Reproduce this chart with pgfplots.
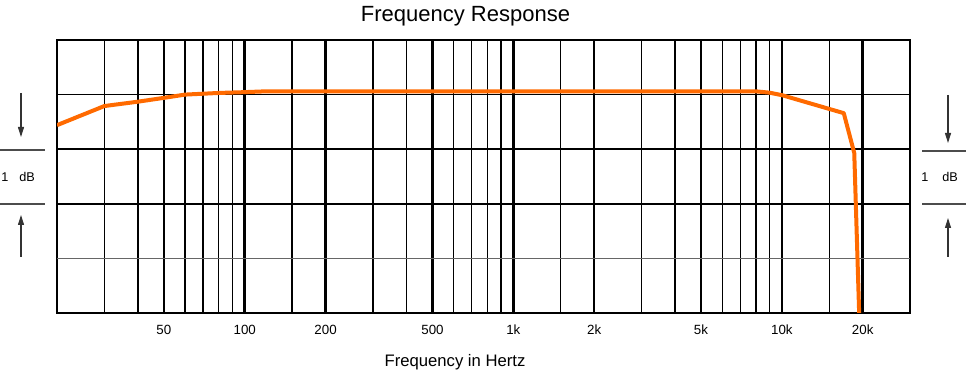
\documentclass[border=0pt]{standalone}
\usepackage{pgfplots}
\pgfplotsset{compat=1.18}
\usepackage{fontspec}
\setmainfont{Liberation Sans}
\usetikzlibrary{arrows.meta}
\definecolor{curve}{RGB}{255,106,0}
\begin{document}
\begin{tikzpicture}
\useasboundingbox (-42.75pt,-42.75pt) rectangle (681.75pt,234.75pt);
\begin{axis}[
  at={(0,0)}, anchor=south west, scale only axis,
  width=639.75pt, height=204.75pt,
  xmode=log, xmin=20, xmax=30000, ymin=-4, ymax=1,
  xtick={50,100,200,500,1000,2000,5000,10000,20000},
  xticklabels={50,100,200,500,1k,2k,5k,10k,20k},
  minor xtick={30,40,60,70,80,90,150,300,400,600,700,800,900,1500,3000,4000,6000,7000,8000,9000,15000},
  ytick=\empty,
  xmajorgrids, xminorgrids,
  major grid style={black, line width=2pt},
  minor grid style={black, line width=1pt},
  major tick length=0pt, minor tick length=0pt,
  axis line style={black, line width=1.1pt},
  xticklabel style={font=\fontsize{10}{12}\selectfont, anchor=base, yshift=-16pt},
  clip=true,
]
\addplot[black, line width=1.1pt] coordinates {(20,0) (30000,0)};
\addplot[black, line width=1.1pt] coordinates {(20,-1) (30000,-1)};
\addplot[black, line width=1.1pt] coordinates {(20,-2) (30000,-2)};
\addplot[black!60, line width=1.1pt] coordinates {(20,-3) (30000,-3)};
\addplot[curve, line width=3pt, line join=round] coordinates {
(20,-0.56) (30,-0.21) (40,-0.13) (50,-0.06) (60,0.0) (80,0.03) (100,0.045) (120,0.06)
(8000,0.06) (9000,0.035) (10000,-0.01) (17000,-0.34) (18600,-1.07) (19400,-4.0)
};
\end{axis}
\begin{scope}[x=0.75pt,y=0.75pt]
\node[font=\fontsize{16.5}{19}\selectfont, anchor=base] at (408.5,291.3) {Frequency Response};
\node[font=\fontsize{12.5}{15}\selectfont, anchor=base] at (398,-53.7) {Frequency in Hertz};
% left annotation
\draw[black!80, line width=0.8pt, -{Triangle[length=7.5pt,width=4.5pt]}] (-36,220) -- (-36,176);
\draw[black!70, line width=0.8pt] (-57,163) -- (-12,163);
\node[font=\fontsize{9.5}{11}\selectfont] at (-52,136) {1};
\node[font=\fontsize{9.5}{11}\selectfont] at (-30,136) {dB};
\draw[black!70, line width=0.8pt] (-57,109) -- (-12,109);
\draw[black!80, line width=0.8pt, -{Triangle[length=7.5pt,width=4.5pt]}] (-36,56) -- (-36,98);
% right annotation
\draw[black!80, line width=0.8pt, -{Triangle[length=7.5pt,width=4.5pt]}] (891,218) -- (891,170);
\draw[black!70, line width=0.8pt] (865,162) -- (909,162);
\node[font=\fontsize{9.5}{11}\selectfont] at (868,136) {1};
\node[font=\fontsize{9.5}{11}\selectfont] at (893,136) {dB};
\draw[black!70, line width=0.8pt] (865,109) -- (909,109);
\draw[black!80, line width=0.8pt, -{Triangle[length=7.5pt,width=4.5pt]}] (891,56) -- (891,95);
\end{scope}
\end{tikzpicture}
\end{document}
